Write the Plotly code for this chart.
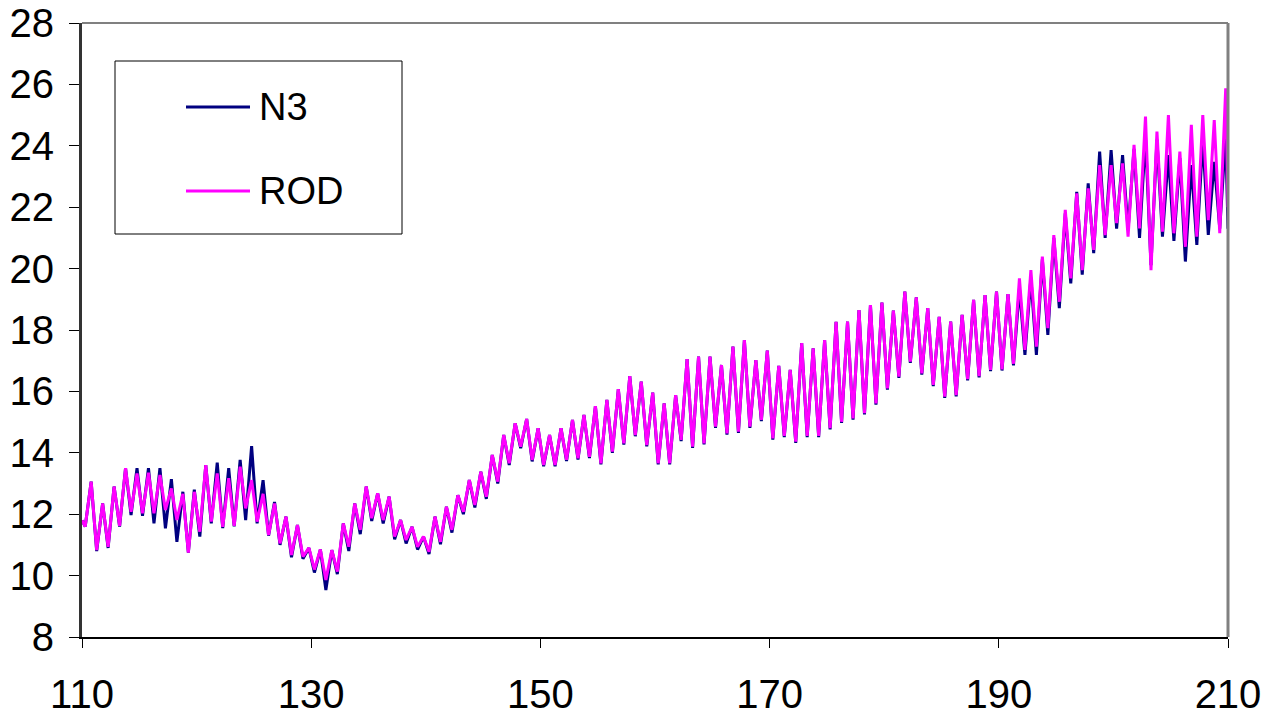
import plotly.graph_objects as go

# ---- data ----
DAYS = list(range(110, 210))

ROD_MIN = [11.60, 10.83, 10.94, 11.62, 12.08, 12.03, 12.03, 12.14, 11.81, 10.75,
           11.43, 11.76, 11.59, 11.62, 12.19, 11.76, 11.32, 11.05, 10.67, 10.62,
           10.20, 9.86, 10.13, 10.94, 11.49, 11.87, 11.81, 11.27, 11.16, 10.94,
           10.78, 11.10, 11.49, 12.08, 12.30, 12.57, 13.06, 13.66, 14.20, 13.77,
           13.60, 13.60, 13.77, 13.82, 13.87, 13.66, 14.04, 14.31, 14.58, 14.25,
           13.66, 13.66, 14.42, 14.20, 14.31, 14.85, 14.63, 14.69, 14.85, 15.07,
           14.47, 14.55, 14.36, 14.55, 14.55, 14.80, 15.01, 15.12, 15.29, 15.61,
           16.10, 16.48, 16.97, 16.59, 16.21, 15.83, 15.88, 16.40, 16.50, 16.70,
           16.72, 16.90, 17.35, 17.46, 18.06, 18.92, 19.68, 19.95, 20.61, 21.09,
           21.48, 21.04, 21.31, 19.95, 21.20, 21.15, 20.71, 21.04, 21.58, 21.15]

ROD_MAX = [13.06, 12.35, 12.90, 13.50, 13.33, 13.35, 13.28, 12.84, 12.66, 12.73,
           13.60, 13.33, 13.17, 13.55, 13.11, 12.66, 12.35, 11.92, 11.65, 10.90,
           10.85, 10.83, 11.70, 12.35, 12.90, 12.68, 12.57, 11.81, 11.59, 11.27,
           11.92, 12.24, 12.62, 13.11, 13.38, 13.93, 14.58, 14.96, 15.10, 14.80,
           14.58, 14.80, 15.07, 15.23, 15.52, 15.72, 16.07, 16.50, 16.32, 15.96,
           15.61, 15.88, 17.05, 17.13, 17.13, 16.86, 17.46, 17.67, 17.02, 17.33,
           16.83, 16.70, 17.57, 17.40, 17.67, 18.27, 18.27, 18.65, 18.81, 18.89,
           18.63, 19.25, 19.06, 18.71, 18.43, 18.27, 18.49, 18.98, 19.14, 19.25,
           19.17, 19.68, 19.95, 20.39, 21.09, 21.91, 22.45, 22.61, 23.37, 23.37,
           23.43, 24.03, 24.95, 24.46, 25.00, 23.81, 24.68, 25.00, 24.84, 25.87]

N3_MIN = [11.60, 10.80, 10.90, 11.60, 11.97, 11.95, 11.70, 11.54, 11.10, 10.75,
          11.27, 11.70, 11.55, 11.60, 11.81, 11.70, 11.30, 11.00, 10.60, 10.55,
          10.10, 9.53, 10.05, 10.80, 11.35, 11.78, 11.70, 11.18, 11.05, 10.85,
          10.70, 11.02, 11.40, 12.00, 12.22, 12.50, 13.00, 13.60, 14.15, 13.72,
          13.56, 13.56, 13.73, 13.78, 13.83, 13.62, 14.00, 14.27, 14.54, 14.21,
          13.62, 13.62, 14.38, 14.16, 14.27, 14.81, 14.59, 14.65, 14.81, 15.03,
          14.43, 14.51, 14.32, 14.51, 14.51, 14.76, 14.97, 15.08, 15.25, 15.57,
          16.06, 16.44, 16.93, 16.55, 16.17, 15.79, 15.84, 16.36, 16.46, 16.66,
          16.68, 16.85, 17.19, 17.19, 17.84, 18.71, 19.52, 19.80, 20.50, 21.00,
          21.30, 21.26, 21.00, 20.11, 21.04, 20.90, 20.23, 20.77, 21.10, 21.30]

N3_MAX = [13.06, 12.35, 12.90, 13.50, 13.50, 13.50, 13.50, 13.14, 12.73, 12.80,
          13.60, 13.68, 13.50, 13.77, 14.22, 13.11, 12.40, 11.92, 11.65, 10.90,
          10.85, 10.83, 11.70, 12.35, 12.90, 12.68, 12.57, 11.81, 11.59, 11.27,
          11.92, 12.24, 12.62, 13.11, 13.38, 13.93, 14.58, 14.96, 15.10, 14.80,
          14.58, 14.80, 15.07, 15.23, 15.52, 15.72, 16.07, 16.50, 16.32, 15.96,
          15.61, 15.88, 17.05, 17.13, 17.13, 16.86, 17.46, 17.67, 17.02, 17.33,
          16.83, 16.70, 17.57, 17.40, 17.67, 18.27, 18.27, 18.65, 18.81, 18.89,
          18.63, 19.25, 19.06, 18.71, 18.43, 18.27, 18.49, 18.98, 19.14, 19.25,
          19.17, 19.36, 19.70, 20.30, 21.00, 21.80, 22.50, 22.78, 23.81, 23.86,
          23.70, 23.90, 24.30, 24.20, 23.70, 23.60, 23.37, 24.20, 23.48, 24.35]

START_VALUE = {"N3": 11.8, "ROD": 11.8}
END_VALUE = {"N3": 21.3, "ROD": 22.0}

X_TICKS = [110, 130, 150, 170, 190, 210]
Y_TICKS = [8, 10, 12, 14, 16, 18, 20, 22, 24, 26, 28]

SERIES = [("N3", N3_MIN, N3_MAX, "#000080"), ("ROD", ROD_MIN, ROD_MAX, "#FF00FF")]


def build(name, mins, maxs):
    xs, ys = [DAYS[0]], [START_VALUE[name]]
    for d, lo, hi in zip(DAYS, mins, maxs):
        xs += [d + 0.28, d + 0.80]
        ys += [lo, hi]
    xs.append(DAYS[-1] + 1)
    ys.append(END_VALUE[name])
    return xs, ys


fig = go.Figure()
for name, mins, maxs, col in SERIES:
    xs, ys = build(name, mins, maxs)
    fig.add_trace(go.Scatter(x=xs, y=ys, mode="lines", name=name,
                             line=dict(color=col, width=3), showlegend=False))

FONT = "Liberation Sans, Arial, sans-serif"

# page has an 8px body margin, so the figure is sized/offset to compensate
fig.update_layout(
    width=1262, height=712,
    margin=dict(l=74, r=42, t=15, b=83, autoexpand=False),
    paper_bgcolor="white", plot_bgcolor="white",
    font=dict(family=FONT, size=40, color="black"),
    xaxis=dict(range=[110, 210], tickvals=X_TICKS, showgrid=False, zeroline=False,
               automargin=False, ticklabeloverflow="allow",
               showline=True, linecolor="black", linewidth=2,
               ticks="outside", ticklen=9, tickcolor="black", tickwidth=1,
               ticklabelstandoff=12, tickfont=dict(size=40)),
    yaxis=dict(range=[8, 28], tickvals=Y_TICKS, showgrid=False, zeroline=False,
               automargin=False, ticklabeloverflow="allow",
               showline=True, linecolor="#333333", linewidth=3,
               ticks="outside", ticklen=10, tickcolor="black", tickwidth=1,
               ticklabelstandoff=7, tickfont=dict(size=40)),
)

# plot-area border (top and right in gray)
fig.add_shape(type="line", xref="paper", yref="paper", x0=0, x1=1, y0=1, y1=1,
              line=dict(color="#808080", width=2))
fig.add_shape(type="line", xref="paper", yref="paper", x0=1, x1=1, y0=0, y1=1,
              line=dict(color="#808080", width=3))

# legend box drawn in plot-relative coords (page pixels of the reference)
PW, PH = 1228 - 82, 637 - 23


def px(x):
    return (x - 82) / PW


def py(y):
    return 1 - (y - 23) / PH


fig.add_shape(type="rect", xref="paper", yref="paper",
              x0=px(115), x1=px(402), y0=py(234), y1=py(61),
              line=dict(color="black", width=1), fillcolor="white", layer="above")
for i, (name, _, _, col) in enumerate(SERIES):
    yy = 107 + i * 84
    fig.add_shape(type="line", xref="paper", yref="paper",
                  x0=px(186), x1=px(250), y0=py(yy), y1=py(yy),
                  line=dict(color=col, width=3), layer="above")
    fig.add_annotation(xref="paper", yref="paper", x=px(257), y=py(yy),
                       text=name, showarrow=False, xanchor="left", yanchor="middle",
                       font=dict(family=FONT, size=38, color="black"))

fig.write_html("out.html")
